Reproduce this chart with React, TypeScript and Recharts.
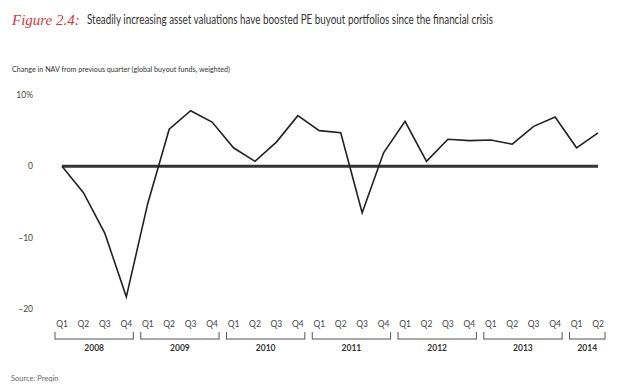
import { LineChart, Line, XAxis, YAxis, ReferenceLine } from 'recharts'

// quarterly change in NAV, global buyout funds (weighted), %
const years = ['2008', '2009', '2010', '2011', '2012', '2013', '2014']
const quartersPerYear = [4, 4, 4, 4, 4, 4, 2]
const navChange = [
  0, -3.7, -9.4, -18.3,
  -5.2, 5.2, 7.8, 6.2,
  2.6, 0.7, 3.4, 7.1,
  5.0, 4.7, -6.5, 1.9,
  6.3, 0.7, 3.8, 3.6,
  3.7, 3.1, 5.6, 6.9,
  2.6, 4.7,
]
const yTicks = [-20, -10, 0, 10]
const yTickLabels: Record<number, string> = { 10: '10%', 0: '0', [-10]: '–10', [-20]: '–20' }

const W = 640
const H = 390
const LEFT = 62
const RIGHT = 42
const FONT = 'Lato, "Open Sans", sans-serif'

type Row = { key: string; q: string; year: string; pos: number; count: number; value: number }

const data: Row[] = []
years.forEach((year, yi) => {
  for (let k = 0; k < quartersPerYear[yi]; k++) {
    data.push({
      key: `${year} Q${k + 1}`,
      q: `Q${k + 1}`,
      year,
      pos: k,
      count: quartersPerYear[yi],
      value: navChange[data.length],
    })
  }
})

const step = (W - LEFT - RIGHT) / (data.length - 1)

function QuarterTick(props: any) {
  const { payload, index } = props
  const x = payload.coordinate
  const row = data[index]
  if (!row) return null
  const first = row.pos === 0
  const last = row.pos === row.count - 1
  const x1 = first ? x - 7 : x - step / 2
  const x2 = last ? x + 7 : x + step / 2
  const labelPos = Math.floor((row.count - 1) / 2)
  const labelX = row.count % 2 === 0 ? x + step / 2 : x
  return (
    <g>
      <text x={x} y={327} textAnchor="middle" fontSize={8.5} fill="#444" fontFamily={FONT}>
        {row.q}
      </text>
      <line x1={x1} x2={x2} y1={339} y2={339} stroke="#555" strokeWidth={1} />
      {first && <line x1={x1} x2={x1} y1={332} y2={339.5} stroke="#555" strokeWidth={1} />}
      {last && <line x1={x2} x2={x2} y1={332} y2={339.5} stroke="#555" strokeWidth={1} />}
      {row.pos === labelPos && (
        <text x={labelX} y={351} textAnchor="middle" fontSize={8.5} fontWeight="bold" fill="#333" fontFamily={FONT}>
          {row.year}
        </text>
      )}
    </g>
  )
}

function ValueTick(props: any) {
  const { y, payload } = props
  return (
    <text x={33} y={y + 3} textAnchor="end" fontSize={8.5} fill="#444" fontFamily={FONT}>
      {yTickLabels[payload.value]}
    </text>
  )
}

export default function App() {
  return (
    <div style={{ position: 'absolute', left: 0, top: 0, width: W, height: H, background: '#fff' }}>
      <svg width={W} height={H} style={{ position: 'absolute', left: 0, top: 0 }}>
        <text x={12} y={25} fontSize={15} fontStyle="italic" fill="#d9363e" fontFamily='"Liberation Serif", serif'>
          Figure 2.4:
        </text>
        <text x={87} y={24} fontSize={13} fill="#333" fontFamily={FONT} textLength={406} lengthAdjust="spacingAndGlyphs">
          Steadily increasing asset valuations have boosted PE buyout portfolios since the financial crisis
        </text>
        <text x={12} y={72} fontSize={7.5} fill="#333" fontFamily={FONT} textLength={218} lengthAdjust="spacingAndGlyphs">
          Change in NAV from previous quarter (global buyout funds, weighted)
        </text>
        <text x={11} y={381} fontSize={7.5} fill="#666" fontFamily={FONT}>
          Source: Preqin
        </text>
      </svg>
      <div style={{ position: 'absolute', left: 0, top: 0 }}>
        <LineChart width={W} height={H} data={data} margin={{ top: 95, right: RIGHT, bottom: 0, left: 0 }}>
          <XAxis
            dataKey="key"
            interval={0}
            axisLine={false}
            tickLine={false}
            height={81}
            tick={<QuarterTick />}
            padding={{ left: 0, right: 0 }}
          />
          <YAxis
            domain={[-20, 10]}
            ticks={yTicks}
            width={LEFT}
            axisLine={false}
            tickLine={false}
            tick={<ValueTick />}
          />
          <ReferenceLine y={0} stroke="#333" strokeWidth={3} />
          <Line
            type="linear"
            dataKey="value"
            stroke="#222"
            strokeWidth={1.6}
            dot={false}
            isAnimationActive={false}
          />
        </LineChart>
      </div>
    </div>
  )
}
